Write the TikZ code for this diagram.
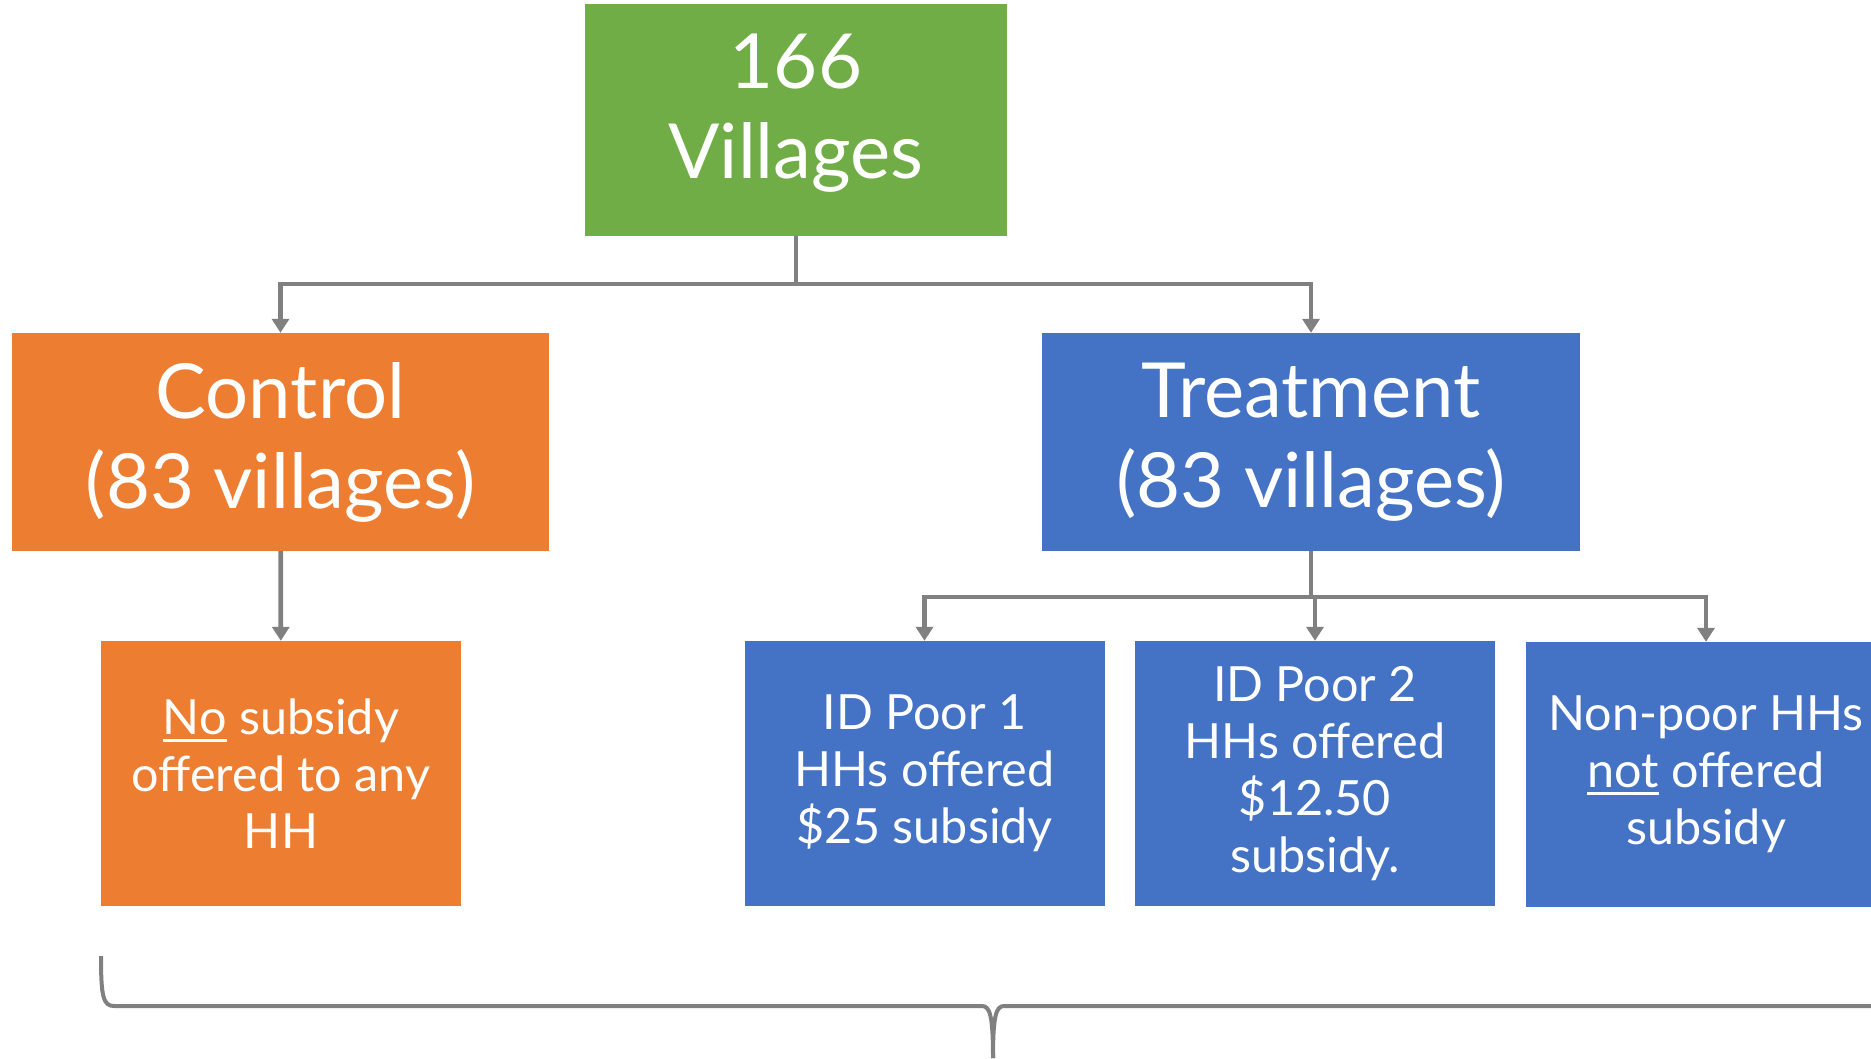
\documentclass[tikz,border=0pt]{standalone}
\usepackage{fontspec}
\setmainfont{Lato}
\usetikzlibrary{arrows.meta}
\definecolor{vgreen}{RGB}{112,173,71}
\definecolor{corange}{RGB}{237,125,49}
\definecolor{tblue}{RGB}{68,114,196}
\definecolor{lgray}{RGB}{128,128,128}
\newcommand{\undl}[1]{{\setbox0\hbox{#1}\rlap{\rule[-0.16em]{\wd0}{0.065em}}\box0}}

\begin{document}
\begin{tikzpicture}
      [x=1pt, y=-1pt,
      bigbox/.style={rectangle, inner sep=0pt, text=white, align=center,
        minimum height=218pt, font=\fontsize{76}{90}\selectfont},
      subbox/.style={rectangle, inner sep=0pt, text=white, align=center,
        minimum width=360pt, minimum height=265pt, fill=tblue,
        font=\fontsize{48.5}{57}\selectfont},
      arr/.style={-{Triangle[width=17pt,length=14pt]}, line width=4.8pt, draw=lgray},
      brace/.style={line width=4pt, draw=lgray}]
      \useasboundingbox (0,0) rectangle (1871,1058);
      \node (villages) at (796,120) [bigbox, fill=vgreen, minimum width=422pt,
        minimum height=232pt, text depth=28pt] {166\\Villages};
      \node (control) at (280.5,442) [bigbox, fill=corange, minimum width=537pt]
        {Control\\(83 villages)};
      \node (treatment) at (1311,442) [bigbox, fill=tblue, minimum width=538pt]
        {Treatment\\(83 villages)};
      \node (nosub) at (281,773.5) [subbox, fill=corange]
        {\undl{No} subsidy\\offered to any\\HH};
      \node (idpoor1) at (924.5,773.5) [subbox] {ID Poor 1\\HHs offered\\\$25 subsidy};
      \node (idpoor2) at (1315,773.5) [subbox] {ID Poor 2\\HHs offered\\\$12.50\\subsidy.};
      \node (nonpoor) at (1706,774.5) [subbox] {Non-poor HHs\\\undl{not} offered\\subsidy};
      \coordinate (vsplit) at (796,284);
      \coordinate (tsplit) at (1311,597);
      \draw[arr] (villages.south) -- (vsplit) -| (control.north);
      \draw[arr] (vsplit) -| (treatment.north);
      \draw[arr] (control) -- (nosub);
      \draw[arr] (treatment.south) -- (tsplit) -| (idpoor1.north);
      \draw[arr] (tsplit) -| (idpoor2.north);
      \draw[arr] (tsplit) -| (nonpoor.north);
      % brace under the groups
      \draw[brace] (101,956) .. controls (101,996) and (103,1006) .. (114,1006)
        -- (982,1006) .. controls (990,1006) and (993,1016) .. (993,1058);
      \draw[brace] (993,1058) .. controls (993,1016) and (996,1006) .. (1004,1006)
        -- (1885,1006);
    \end{tikzpicture}
\end{document}
